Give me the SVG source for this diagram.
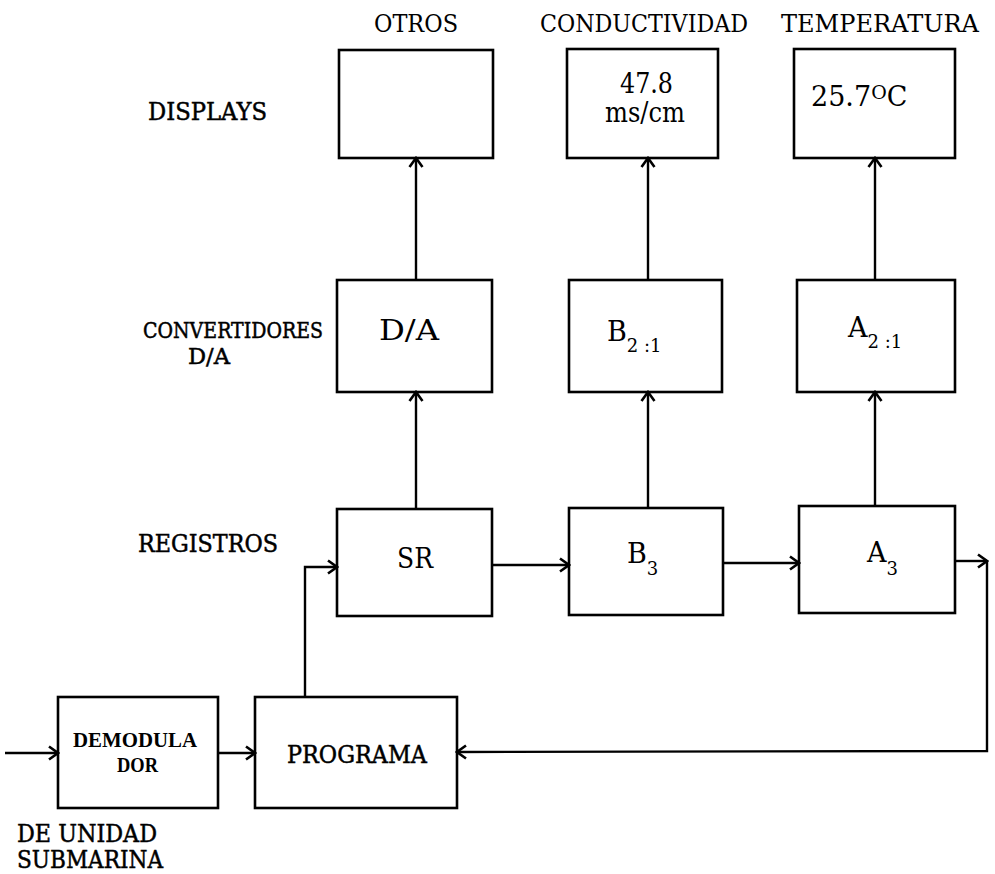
<svg xmlns="http://www.w3.org/2000/svg" width="995" height="874" viewBox="0 0 995 874">
  <defs>
    <style>
      .box { fill: none; stroke: #000; stroke-width: 2.6; }
      .wire { fill: none; stroke: #000; stroke-width: 2.4; }
      .lbl { font-size: 24px; }
      .row { font-size: 22px; }
      .heavy { stroke: #000; stroke-width: 0.5; }
      .val { font-size: 27px; }
      .sub { font-size: 18px; }
      .blk { font-size: 22px; font-weight: bold; font-family: 'Liberation Serif', serif; }
    </style>
    <marker id="arr" markerWidth="14" markerHeight="16" refX="12" refY="8" orient="auto" markerUnits="userSpaceOnUse">
      <path d="M3,1.5 L12,8 L3,14.5" fill="none" stroke="#000" stroke-width="2.6"/>
    </marker>
  </defs>
  <rect width="995" height="874" fill="#fff"/>

  <g font-family="'DejaVu Serif', 'Liberation Serif', serif" fill="#000">
  <!-- row and column captions -->
  <g id="captions">
    <text class="lbl" x="374" y="32" textLength="84" lengthAdjust="spacingAndGlyphs">OTROS</text>
    <text class="lbl" x="540" y="32" textLength="208" lengthAdjust="spacingAndGlyphs">CONDUCTIVIDAD</text>
    <text class="lbl" x="781" y="32" textLength="198" lengthAdjust="spacingAndGlyphs">TEMPERATURA</text>
    <text class="lbl heavy" x="148" y="120" textLength="119" lengthAdjust="spacingAndGlyphs">DISPLAYS</text>
    <text class="row heavy" x="143" y="338" textLength="180" lengthAdjust="spacingAndGlyphs">CONVERTIDORES</text>
    <text class="row heavy" x="188" y="364" textLength="42" lengthAdjust="spacingAndGlyphs">D/A</text>
    <text class="lbl heavy" x="138" y="552" textLength="140" lengthAdjust="spacingAndGlyphs">REGISTROS</text>
    <text class="lbl heavy" x="17" y="842" textLength="140" lengthAdjust="spacingAndGlyphs">DE UNIDAD</text>
    <text class="lbl heavy" x="17" y="868" textLength="146" lengthAdjust="spacingAndGlyphs">SUBMARINA</text>
  </g>

  <!-- displays -->
  <g id="display-otros">
    <rect class="box" x="339" y="50" width="154" height="108"/>
  </g>
  <g id="display-conductividad">
    <rect class="box" x="567" y="49" width="151" height="109"/>
    <text class="val" x="620" y="93" textLength="53" lengthAdjust="spacingAndGlyphs">47.8</text>
    <text class="val" x="605" y="122" textLength="80" lengthAdjust="spacingAndGlyphs">ms/cm</text>
  </g>
  <g id="display-temperatura">
    <rect class="box" x="794" y="49" width="161" height="109"/>
    <text class="val" x="811" y="106">25.7<tspan font-size="19" dy="-7">O</tspan><tspan dy="7">C</tspan></text>
  </g>

  <!-- D/A converters -->
  <g id="conv-da">
    <rect class="box" x="337" y="280" width="155" height="112"/>
    <text class="val" x="379" y="340" textLength="60" lengthAdjust="spacingAndGlyphs">D/A</text>
  </g>
  <g id="conv-b21">
    <rect class="box" x="569" y="280" width="153" height="112"/>
    <text class="val" x="607" y="341">B<tspan class="sub" dy="11">2 :1</tspan></text>
  </g>
  <g id="conv-a21">
    <rect class="box" x="797" y="280" width="158" height="112"/>
    <text class="val" x="848" y="337">A<tspan class="sub" dy="11">2 :1</tspan></text>
  </g>

  <!-- registers -->
  <g id="reg-sr">
    <rect class="box" x="337" y="509" width="155" height="107"/>
    <text class="val" x="397" y="568" textLength="36" lengthAdjust="spacingAndGlyphs">SR</text>
  </g>
  <g id="reg-b3">
    <rect class="box" x="569" y="508" width="154" height="107"/>
    <text class="val" x="627" y="563">B<tspan class="sub" dy="12">3</tspan></text>
  </g>
  <g id="reg-a3">
    <rect class="box" x="799" y="506" width="156" height="107"/>
    <text class="val" x="867" y="562">A<tspan class="sub" dy="13">3</tspan></text>
  </g>

  <!-- input chain -->
  <g id="demodulador">
    <rect class="box" x="58" y="697" width="160" height="111"/>
    <text class="blk" x="73" y="747" textLength="124" lengthAdjust="spacingAndGlyphs">DEMODULA</text>
    <text class="blk" x="117" y="772" textLength="41" lengthAdjust="spacingAndGlyphs">DOR</text>
  </g>
  <g id="programa">
    <rect class="box" x="255" y="697" width="202" height="111"/>
    <text class="lbl heavy" x="287" y="763" textLength="140" lengthAdjust="spacingAndGlyphs">PROGRAMA</text>
  </g>
  </g>

  <!-- connectors -->
  <g id="connectors">
    <line class="wire" x1="5" y1="753" x2="58" y2="753" marker-end="url(#arr)"/>
    <line class="wire" x1="218" y1="753" x2="255" y2="753" marker-end="url(#arr)"/>
    <polyline class="wire" points="305,697 305,567 337,567" marker-end="url(#arr)"/>
    <line class="wire" x1="492" y1="565" x2="569" y2="565" marker-end="url(#arr)"/>
    <line class="wire" x1="723" y1="563" x2="799" y2="563" marker-end="url(#arr)"/>
    <line class="wire" x1="955" y1="561" x2="987" y2="561" marker-end="url(#arr)"/>
    <polyline class="wire" points="987,561 987,751 457,752" marker-end="url(#arr)"/>
    <line class="wire" x1="416" y1="509" x2="416" y2="392" marker-end="url(#arr)"/>
    <line class="wire" x1="416" y1="280" x2="416" y2="158" marker-end="url(#arr)"/>
    <line class="wire" x1="648" y1="508" x2="648" y2="392" marker-end="url(#arr)"/>
    <line class="wire" x1="648" y1="280" x2="648" y2="158" marker-end="url(#arr)"/>
    <line class="wire" x1="875" y1="506" x2="875" y2="392" marker-end="url(#arr)"/>
    <line class="wire" x1="875" y1="280" x2="875" y2="158" marker-end="url(#arr)"/>
  </g>
</svg>
